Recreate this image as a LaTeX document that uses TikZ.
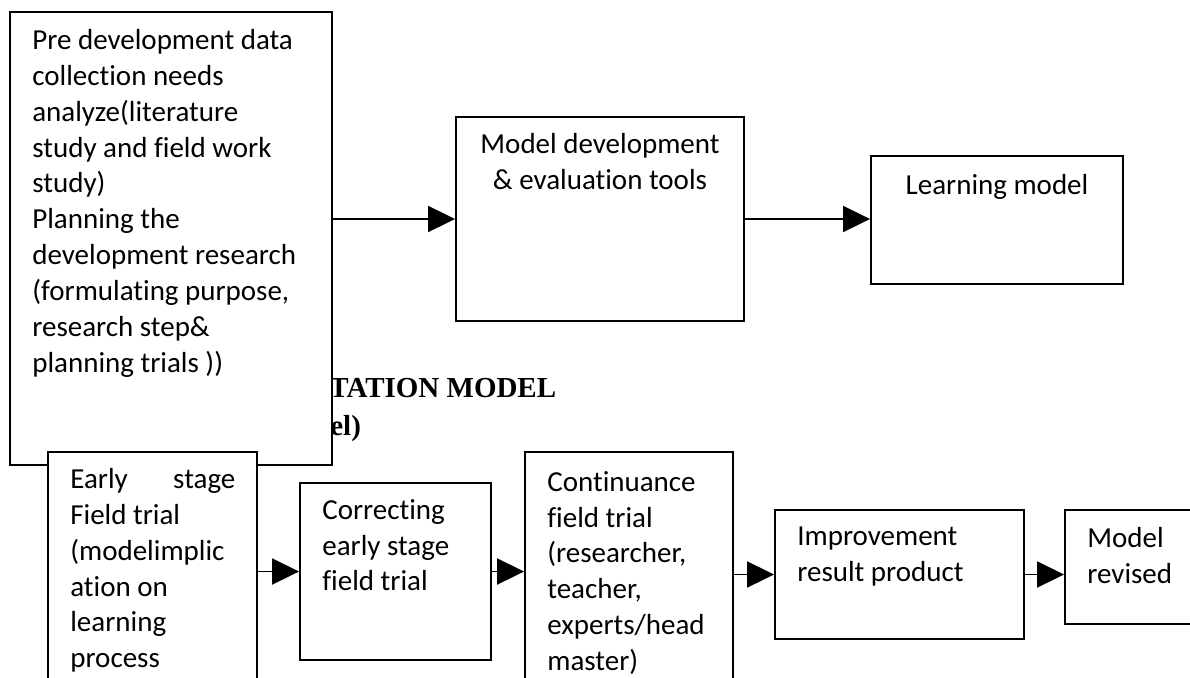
\documentclass[tikz,border=0pt]{standalone}
\usepackage{fontspec}
\setmainfont{Carlito}[Ligatures={NoCommon}]
\newfontfamily\headfont{Liberation Serif}
\usetikzlibrary{arrows.meta}
\tikzset{
  blk/.style={draw, line width=1.1pt, fill=white, inner sep=0pt},
  txt/.style={inner sep=0pt, align=flush left, font=\fontsize{16.5}{20.4}\selectfont},
  head/.style={inner sep=0pt, anchor=base west, font=\headfont\bfseries\fontsize{16.5}{20}\selectfont},
  ar/.style={-{Triangle[length=5.4mm,width=5.2mm]}, line width=1.1pt},
}

\begin{document}
\begin{tikzpicture}[x=0.02cm,y=-0.02cm]
\useasboundingbox (0,0) rectangle (1190,677);
\clip (0,0) rectangle (1190,677);
% heading left behind the first block
\node[head] (hd1) at (329,397) {TATION MODEL};
\node[head] (hd2) at (330,435) {el)};
% top row
\node[blk, minimum width=64.4mm, minimum height=90.6mm] (pre) at (171,238.5) {};
\node[txt, anchor=north west] (pret) at (32,29) {Pre development data\\collection needs\\analyze(literature\\study and field work\\study)\\Planning the\\development research\\(formulating purpose,\\research step\&\\planning trials ))};
\node[blk, minimum width=57.6mm, minimum height=40.8mm] (dev) at (600,219) {};
\node[txt, align=center, anchor=north] (devt) at (600,133) {Model development\\\& evaluation tools};
\node[blk, minimum width=50.4mm, minimum height=25.6mm] (lrn) at (997,220) {};
\node[txt, align=center, anchor=north] (lrnt) at (997,174) {Learning model};
\draw[ar] (pre.east |- dev.west) -- (dev.west);
\draw[ar] (dev.east) -- (lrn.west |- dev.east);
% bottom row
\node[blk, minimum width=41.8mm, minimum height=51.6mm] (early) at (152.5,581) {};
\node[txt, text width=33mm, anchor=north west] (earlyt) at (70,468) {Early\hfill stage\\Field trial\\(modelimplic\\ation on\\learning\\process};
\node[blk, minimum width=38.2mm, minimum height=35.4mm] (corr) at (395.5,571.5) {};
\node[txt, anchor=north west] (corrt) at (322,499) {Correcting\\early stage\\field trial};
\node[blk, minimum width=41.6mm, minimum height=51.6mm] (cont) at (629,581) {};
\node[txt, anchor=north west] (contt) at (547,471) {Continuance\\field trial\\(researcher,\\teacher,\\experts/head\\master)};
\node[blk, minimum width=49.8mm, minimum height=25.8mm] (impr) at (899.5,574.5) {};
\node[txt, anchor=north west] (imprt) at (797,527) {Improvement\\result product};
\node[blk, minimum width=31mm, minimum height=22.8mm] (rev) at (1142.5,567) {};
\node[txt, anchor=north west] (revt) at (1087,527) {Model\\revised};
\draw[ar] (early.east |- corr.west) -- (corr.west);
\draw[ar] (corr.east) -- (cont.west |- corr.east);
\draw[ar] (cont.east |- impr.west) -- (impr.west);
\draw[ar] (impr.east) -- (rev.west |- impr.east);
\end{tikzpicture}
\end{document}
